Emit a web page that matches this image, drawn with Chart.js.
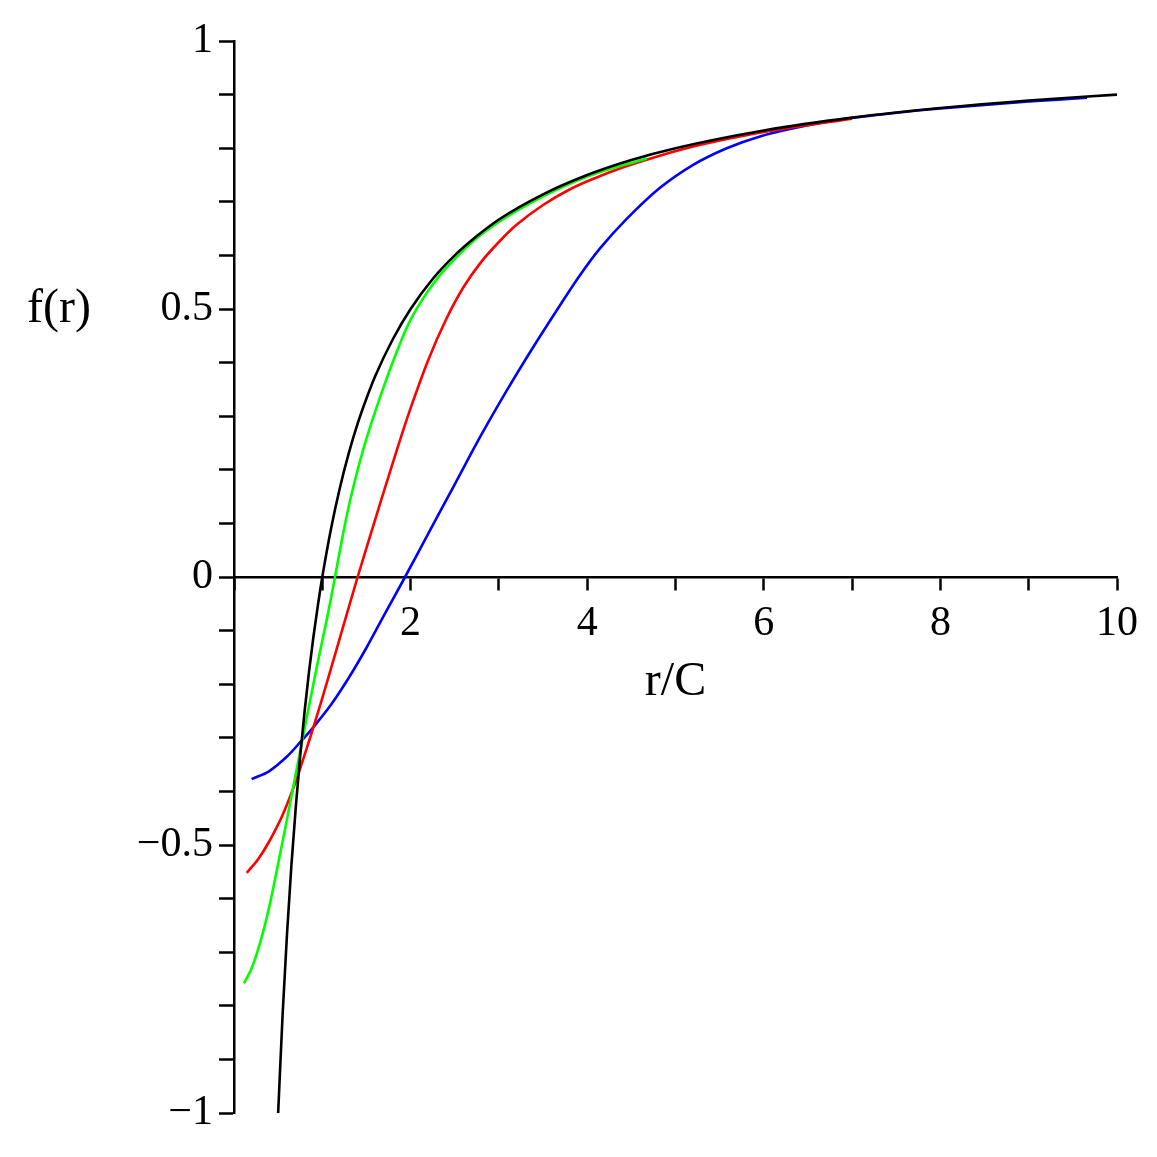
<!DOCTYPE html>
<html>
<head>
<meta charset="utf-8">
<script src="https://cdn.jsdelivr.net/npm/chart.js@4/dist/chart.umd.min.js"></script>
<style>
  html, body { margin: 0; padding: 0; background: #ffffff; }
  #wrap { width: 1157px; height: 1157px; position: relative; }
</style>
</head>
<body>
<div id="wrap"><canvas id="c" width="1157" height="1157"></canvas></div>
<script>
// ---- data ----
const rBlack = [0.5, 0.55, 0.6, 0.65, 0.7, 0.75, 0.8, 0.85, 0.9, 0.95, 1.0, 1.1, 1.2, 1.3, 1.4, 1.5, 1.6, 1.8, 2.0, 2.25, 2.5, 2.75, 3.0, 3.5, 4.0, 4.5, 5.0, 6.0, 7.0, 8.0, 9.0, 10.0];
const fBlack = [-1.0, -0.818, -0.667, -0.538, -0.429, -0.333, -0.25, -0.176, -0.111, -0.053, 0.0, 0.091, 0.167, 0.231, 0.286, 0.333, 0.375, 0.444, 0.5, 0.556, 0.6, 0.636, 0.667, 0.714, 0.75, 0.778, 0.8, 0.833, 0.857, 0.875, 0.889, 0.9];

const rGreen = [0.113, 0.2, 0.3, 0.4, 0.5, 0.6, 0.7, 0.767, 0.85, 0.95, 1.05, 1.144, 1.25, 1.35, 1.5, 1.7, 1.85, 2.0, 2.2, 2.4, 2.8, 3.35, 4.0, 4.674];
const fGreen = [-0.758, -0.73, -0.68, -0.615, -0.535, -0.452, -0.367, -0.31, -0.24, -0.158, -0.08, 0.0, 0.093, 0.167, 0.258, 0.357, 0.423, 0.48, 0.534, 0.576, 0.639, 0.697, 0.747, 0.781];

const rRed = [0.144, 0.275, 0.4, 0.55, 0.7, 0.85, 1.0, 1.2, 1.4, 1.55, 1.7, 1.85, 2.0, 2.2, 2.4, 2.6, 2.8, 3.0, 3.2, 3.5, 3.8, 4.1, 4.4, 4.7, 5.2, 5.8, 6.3, 7.0];
const fRed = [-0.552, -0.526, -0.493, -0.444, -0.381, -0.306, -0.226, -0.113, 0.0, 0.081, 0.161, 0.24, 0.315, 0.405, 0.48, 0.541, 0.588, 0.625, 0.657, 0.694, 0.723, 0.745, 0.764, 0.78, 0.803, 0.824, 0.838, 0.855];

const rBlue = [0.2, 0.4, 0.6, 0.767, 0.9, 1.1, 1.3, 1.5, 1.7, 1.937, 2.2, 2.5, 2.8, 3.1, 3.4, 3.7, 3.918, 4.145, 4.447, 4.824, 5.2, 5.58, 5.957, 6.39, 6.86, 7.5, 8.0, 9.0, 9.66];
const fBlue = [-0.377, -0.362, -0.335, -0.305, -0.28, -0.238, -0.188, -0.132, -0.071, 0.0, 0.081, 0.173, 0.265, 0.351, 0.432, 0.509, 0.563, 0.613, 0.668, 0.726, 0.769, 0.80, 0.822, 0.839, 0.853, 0.866, 0.874, 0.887, 0.894];

const xTickLabels = [2, 4, 6, 8, 10];
const yTickLabels = [1, 0.5, 0, -0.5, -1];
const xTitle = 'r/C';
const yTitle = 'f(r)';

function pts(xs, ys) { return xs.map((x, i) => ({ x: x, y: ys[i] })); }

const FONT = '"Liberation Serif", "Times New Roman", serif';

const titlePlugin = {
  id: 'axisTitles',
  afterDraw(chart) {
    const ctx = chart.ctx;
    const xs = chart.scales.x, ys = chart.scales.y;
    ctx.save();
    ctx.fillStyle = '#000';
    ctx.font = '48px ' + FONT;
    ctx.textBaseline = 'middle';
    ctx.textAlign = 'left';
    ctx.fillText(yTitle, 27, ys.getPixelForValue(0.5));
    ctx.textAlign = 'center';
    ctx.fillText(xTitle, xs.getPixelForValue(5), ys.getPixelForValue(0) + 105);
    ctx.restore();
  }
};

const fmt = v => {
  const s = String(Math.abs(v));
  return v < 0 ? '\u2212' + s : s;
};

const common = { showLine: true, pointRadius: 0, borderWidth: 2.6, fill: false };

new Chart(document.getElementById('c'), {
  type: 'scatter',
  data: {
    datasets: [
      Object.assign({ label: 'black', data: pts(rBlack, fBlack), borderColor: '#000000', cubicInterpolationMode: 'monotone' }, common),
      Object.assign({ label: 'green', data: pts(rGreen, fGreen), borderColor: '#00ff00', tension: 0.35 }, common),
      Object.assign({ label: 'red', data: pts(rRed, fRed), borderColor: '#ff0000', tension: 0.35 }, common),
      Object.assign({ label: 'blue', data: pts(rBlue, fBlue), borderColor: '#0000ff', tension: 0.35 }, common)
    ]
  },
  options: {
    responsive: false,
    animation: false,
    events: [],
    layout: { padding: { left: 0, right: 40, top: 41, bottom: 44 } },
    plugins: { legend: { display: false }, tooltip: { enabled: false } },
    scales: {
      x: {
        type: 'linear',
        position: { y: 0 },
        min: 0, max: 10,
        afterBuildTicks(scale) {
          const t = [];
          for (let i = 0; i <= 10; i++) t.push({ value: i });
          scale.ticks = t;
        },
        ticks: {
          autoSkip: false, maxRotation: 0, padding: 10,
          color: '#000',
          font: { family: FONT, size: 42 },
          callback: v => (xTickLabels.indexOf(Math.round(v)) >= 0 ? String(Math.round(v)) : '')
        },
        grid: { display: true, drawOnChartArea: false, drawTicks: true, tickLength: 12, tickWidth: 2.5, tickColor: '#000' },
        border: { display: true, color: '#000', width: 2.5 }
      },
      y: {
        type: 'linear',
        position: 'left',
        min: -1, max: 1,
        afterBuildTicks(scale) {
          const t = [];
          for (let i = -10; i <= 10; i++) t.push({ value: i / 10 });
          scale.ticks = t;
        },
        afterFit(scale) { scale.width = 234; },
        ticks: {
          autoSkip: false, padding: 6,
          color: '#000',
          font: { family: FONT, size: 42 },
          callback: v => {
            const r = Math.round(v * 10) / 10;
            return yTickLabels.indexOf(r) >= 0 ? fmt(r) : '';
          }
        },
        grid: { display: true, drawOnChartArea: false, drawTicks: true, tickLength: 15, tickWidth: 2.5, tickColor: '#000' },
        border: { display: true, color: '#000', width: 2.5 }
      }
    }
  },
  plugins: [titlePlugin]
});
</script>
</body>
</html>
